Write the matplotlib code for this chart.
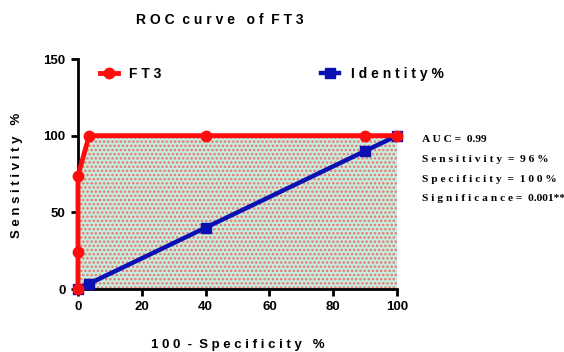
import matplotlib
matplotlib.use("Agg")
import matplotlib.pyplot as plt
import numpy as np

# data
ft3_x = [0, 0, 0, 3.5, 40, 90, 100]
ft3_y = [0, 24, 74, 100, 100, 100, 100]
ident_x = [0, 3.5, 40, 90, 100]
ident_y = [0, 3.5, 40, 90, 100]
x_ticks = [0, 20, 40, 60, 80, 100]
y_ticks = [0, 50, 100, 150]
stats_lines = ["A U C =  0.99",
               "S e n s i t i v i t y  =  9 6 %",
               "S p e c i f i c i t y  =  1 0 0 %",
               "S i g n i f i c a n c e =  0.001**"]

plt.rcParams['font.family'] = ['Liberation Sans', 'DejaVu Sans']
plt.rcParams['hatch.linewidth'] = 1.2

fig = plt.figure(figsize=(5.64, 3.52), dpi=100)
ax = fig.add_axes([78/564, 1 - 289/352, (397-78)/564, (289-59)/352])

# dotted area under the FT3 curve
ax.fill_between(ft3_x, ft3_y, 0, facecolor='#c4eedd', edgecolor='#ee6f6f',
                hatch='....', linewidth=0, zorder=1)

ax.plot(ident_x, ident_y, color='#0a10b4', lw=3.2, marker='s', ms=7,
        clip_on=False, zorder=3, label='I d e n t i t y %')
ax.plot(ft3_x, ft3_y, color='#ff0d0d', lw=3.5, marker='o', ms=7.5,
        clip_on=False, zorder=4, label='F T 3')

ax.set_xlim(0, 100)
ax.set_ylim(0, 150)
ax.set_xticks(x_ticks)
ax.set_yticks(y_ticks)
for s in ['top', 'right']:
    ax.spines[s].set_visible(False)
for s in ['left', 'bottom']:
    ax.spines[s].set_linewidth(2)
ax.tick_params(width=2, length=5, labelsize=9.5, pad=4)
for lab in ax.get_xticklabels() + ax.get_yticklabels():
    lab.set_fontweight('bold')

handles, labels = ax.get_legend_handles_labels()
leg = ax.legend(handles[::-1], labels[::-1], ncol=2, loc='upper left',
                bbox_to_anchor=(0.03, 1.02), frameon=False, columnspacing=11.5,
                handlelength=1.3, handletextpad=0.8, numpoints=1,
                prop={'weight': 'bold', 'size': 10})

fig.text(220/564, 1 - 20/352, 'R O C  c u r v e   o f  F T 3', ha='center',
         va='center', fontsize=10, fontweight='bold')
fig.text(238/564, 1 - 345/352, '1 0 0  -  S p e c i f i c i t y   %',
         ha='center', va='center', fontsize=9.5, fontweight='bold')
fig.text(17/564, 1 - 175/352, 'S e n s i t i v i t y   %', ha='center',
         va='center', rotation=90, fontsize=9.5, fontweight='bold')

for i, line in enumerate(stats_lines):
    fig.text(422/564, 1 - (140 + i*19.5)/352, line, ha='left', va='center',
             fontsize=8.2, fontweight='bold', family='Liberation Serif')

fig.savefig('out.png', dpi=100)
